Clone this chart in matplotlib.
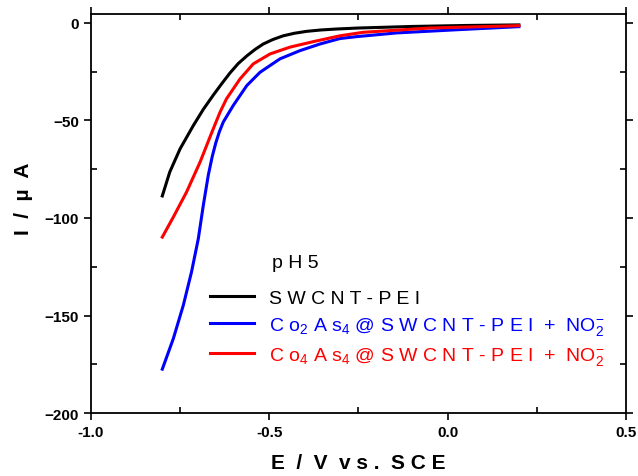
import matplotlib
matplotlib.use("Agg")
import matplotlib.pyplot as plt
from matplotlib.ticker import MultipleLocator, FormatStrFormatter

plt.rcParams['font.family'] = ['Liberation Sans', 'DejaVu Sans']
plt.rcParams['mathtext.fontset'] = 'custom'
plt.rcParams['mathtext.rm'] = 'Liberation Sans'
plt.rcParams['mathtext.it'] = 'Liberation Sans'

# potential (V vs SCE) and current (uA)
e_black = [-0.80, -0.779, -0.750, -0.713, -0.685, -0.657, -0.634, -0.610, -0.587, -0.563,
           -0.540, -0.517, -0.490, -0.461, -0.430, -0.395, -0.355, -0.311, -0.25, -0.10, 0.05, 0.20]
i_black = [-88.7, -76.4, -64.5, -52.6, -44.3, -37.0, -31.3, -25.6, -20.8, -16.9,
           -13.6, -10.8, -8.5, -6.6, -5.3, -4.3, -3.6, -3.1, -2.6, -1.8, -1.3, -1.0]

e_blue = [-0.80, -0.769, -0.741, -0.718, -0.699, -0.685, -0.671, -0.660, -0.650, -0.640,
          -0.629, -0.601, -0.563, -0.526, -0.470, -0.414, -0.358, -0.302, -0.254, -0.142,
          0.035, 0.20]
i_blue = [-177.5, -161.8, -144.7, -127.6, -110.6, -93.5, -78.0, -68.5, -61.5, -55.8,
          -50.8, -42.3, -32.1, -25.3, -18.4, -14.2, -10.8, -8.0, -7.0, -5.1,
          -3.4, -1.9]

e_red = [-0.80, -0.769, -0.732, -0.694, -0.662, -0.638, -0.620, -0.582, -0.545, -0.498,
         -0.442, -0.377, -0.302, -0.237, -0.05, 0.20]
i_red = [-109.8, -99.5, -86.7, -71.3, -56.5, -45.7, -38.9, -28.7, -21.0, -15.9,
         -12.4, -9.6, -6.6, -4.8, -2.6, -1.4]

labels = ["S W C N T - P E I",
          r"C o$_2$ A s$_4$ @ S W C N T - P E I  +  NO$_2^{-}$",
          r"C o$_4$ A s$_4$ @ S W C N T - P E I  +  NO$_2^{-}$"]
colors = ["black", "blue", "red"]

fig = plt.figure(figsize=(6.38, 4.77), dpi=100)
ax = fig.add_axes([0.1426, 0.132, 0.8384, 0.8366])

l1, = ax.plot(e_black, i_black, color=colors[0], lw=2.2)
l2, = ax.plot(e_blue, i_blue, color=colors[1], lw=2.2)
l3, = ax.plot(e_red, i_red, color=colors[2], lw=2.2)

ax.set_xlim(-1.0, 0.5)
ax.set_ylim(-200, 4.6)
ax.xaxis.set_major_locator(MultipleLocator(0.5))
ax.xaxis.set_minor_locator(MultipleLocator(0.25))
ax.yaxis.set_major_locator(MultipleLocator(50))
ax.yaxis.set_minor_locator(MultipleLocator(25))
ax.xaxis.set_major_formatter(FormatStrFormatter('%.1f'))

ax.tick_params(which='major', direction='out', length=5, width=1.2, labelsize=11)
ax.tick_params(which='minor', direction='in', length=4, width=1.2)
ax.tick_params(axis='x', which='both', top=True)
ax.tick_params(axis='y', which='both', right=True)
for lab in ax.get_xticklabels() + ax.get_yticklabels():
    lab.set_fontweight('bold')
for sp in ax.spines.values():
    sp.set_linewidth(1.3)

ax.set_xlabel("E  /  V  v s .  S C E", fontsize=15, fontweight='bold', labelpad=10)
ax.set_ylabel("I  /  \u00b5  A", fontsize=15, fontweight='bold')
ax.yaxis.set_label_coords(-0.108, 0.54)

ax.text(0.338, 0.378, "p H 5", transform=ax.transAxes, fontsize=14, va='center')
leg = ax.legend([l1, l2, l3], labels, loc='upper left', bbox_to_anchor=(0.205, 0.335),
                frameon=False, fontsize=14, handlelength=2.27, handletextpad=0.75,
                labelspacing=0.42, borderpad=0)
for t, c in zip(leg.get_texts(), colors):
    t.set_color(c)

fig.savefig("out.png", dpi=100)
